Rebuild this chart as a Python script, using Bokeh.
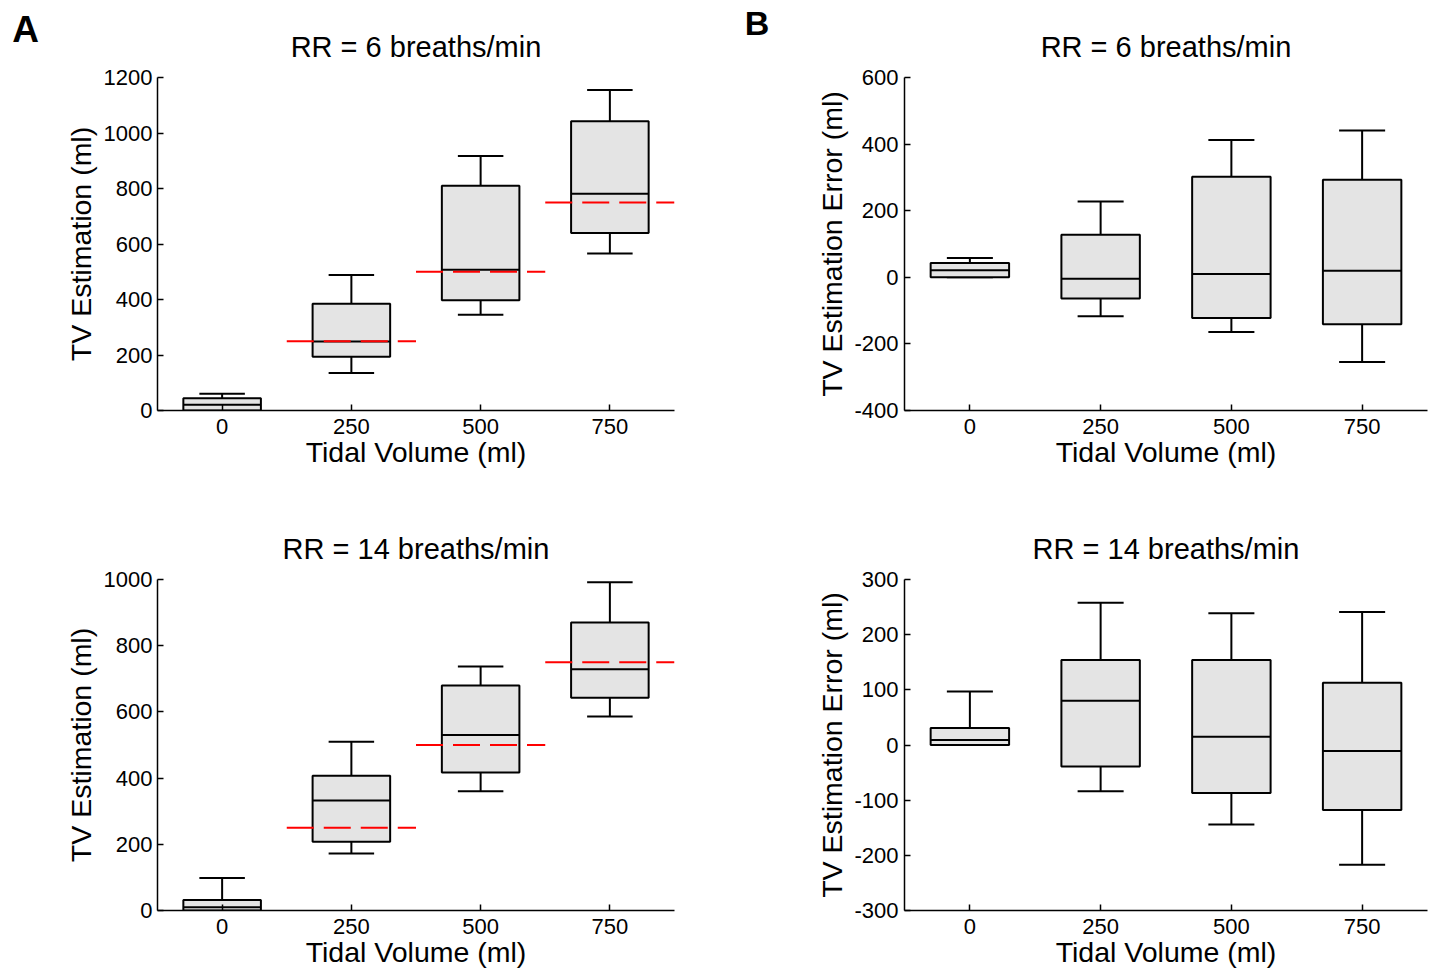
from bokeh.plotting import figure
from bokeh.layouts import column, row
from bokeh.models import FixedTicker, LinearAxis
from bokeh.embed import file_html
from bokeh.resources import INLINE

FONT = "Liberation Sans"

# ---------------- data ----------------
tidal_volumes = [0, 250, 500, 750]
x_tick_labels = ["0", "250", "500", "750"]
reference_tv = [250, 500, 750]

# Panel A, RR = 6 breaths/min : TV estimation (ml)
a6_lower = [0, 135, 345, 566]
a6_q1 = [0, 194, 397, 640]
a6_median = [21, 249, 507, 781]
a6_q3 = [44, 385, 810, 1042]
a6_upper = [60, 488, 917, 1155]
a6_yticks = [0, 200, 400, 600, 800, 1000, 1200]

# Panel B, RR = 6 breaths/min : TV estimation error (ml)
b6_lower = [0, -117, -164, -254]
b6_q1 = [0, -64, -122, -141]
b6_median = [21, -4, 10, 20]
b6_q3 = [43, 128, 302, 293]
b6_upper = [58, 228, 412, 441]
b6_yticks = [-400, -200, 0, 200, 400, 600]

# Panel A, RR = 14 breaths/min : TV estimation (ml)
a14_lower = [0, 172, 360, 586]
a14_q1 = [0, 208, 417, 643]
a14_median = [10, 332, 530, 729]
a14_q3 = [32, 407, 680, 870]
a14_upper = [98, 510, 737, 992]
a14_yticks = [0, 200, 400, 600, 800, 1000]

# Panel B, RR = 14 breaths/min : TV estimation error (ml)
b14_lower = [0, -84, -144, -217]
b14_q1 = [0, -39, -87, -118]
b14_median = [9, 80, 15, -11]
b14_q3 = [31, 154, 154, 113]
b14_upper = [97, 258, 239, 241]
b14_yticks = [-300, -200, -100, 0, 100, 200, 300]

BOX_HALF = 75
CAP_HALF = 44
REF_HALF = 125


def label_axis(text, size, style, standoff):
    """A tick-less axis above the frame that only carries a text label."""
    return LinearAxis(ticker=FixedTicker(ticks=[]), axis_label=text,
                      axis_line_color=None, major_tick_line_color=None,
                      minor_tick_line_color=None, major_tick_in=0,
                      major_tick_out=0, minor_tick_in=0, minor_tick_out=0,
                      major_label_standoff=0, axis_label_standoff=standoff,
                      axis_label_text_font=FONT, axis_label_text_font_size=size,
                      axis_label_text_font_style=style,
                      axis_label_text_color="black")


def make_panel(title, ylabel, yr, yticks, lower, q1, med, q3, upper,
               fw, fh, mb, ylab_standoff, ytick_standoff, refs=None):
    p = figure(frame_width=fw, frame_height=fh,
               x_range=(-125, 875), y_range=yr, title=None,
               output_backend="svg", toolbar_location=None,
               min_border_left=mb[0], min_border_right=mb[1],
               min_border_top=mb[2], min_border_bottom=mb[3])
    p.background_fill_color = "white"
    p.border_fill_color = "white"
    p.outline_line_color = None
    p.xgrid.visible = False
    p.ygrid.visible = False

    p.add_layout(label_axis(title, "29px", "normal", 15), "above")

    xs = tidal_volumes
    lefts = [x - BOX_HALF for x in xs]
    rights = [x + BOX_HALF for x in xs]
    cl = [x - CAP_HALF for x in xs]
    cr = [x + CAP_HALF for x in xs]

    # whiskers
    p.segment(x0=xs, y0=q3, x1=xs, y1=upper, line_color="black", line_width=2)
    p.segment(x0=xs, y0=q1, x1=xs, y1=lower, line_color="black", line_width=2)
    p.segment(x0=cl, y0=upper, x1=cr, y1=upper, line_color="black", line_width=2)
    p.segment(x0=cl, y0=lower, x1=cr, y1=lower, line_color="black", line_width=2)
    # boxes
    p.quad(left=lefts, right=rights, bottom=q1, top=q3,
           fill_color="#e4e4e4", line_color="black", line_width=2)
    # medians
    p.segment(x0=lefts, y0=med, x1=rights, y1=med, line_color="black", line_width=2)

    if refs is not None:
        p.segment(x0=[r - REF_HALF for r in refs], y0=refs,
                  x1=[r + REF_HALF for r in refs], y1=refs,
                  line_color="#ff0000", line_width=2, line_dash="27 10")

    bottom_ax = p.below[0]
    left_ax = p.left[0]
    bottom_ax.ticker = FixedTicker(ticks=tidal_volumes)
    bottom_ax.major_label_overrides = {v: s for v, s in zip(tidal_volumes, x_tick_labels)}
    left_ax.ticker = FixedTicker(ticks=yticks)
    left_ax.major_label_overrides = {v: str(v) for v in yticks}
    bottom_ax.axis_label = "Tidal Volume (ml)"
    left_ax.axis_label = ylabel

    for ax in (bottom_ax, left_ax):
        ax.axis_line_color = "black"
        ax.axis_line_width = 1.5
        ax.major_tick_line_color = "black"
        ax.major_tick_line_width = 1.5
        ax.major_tick_in = 6
        ax.major_tick_out = 0
        ax.minor_tick_line_color = None
        ax.major_label_text_font = FONT
        ax.major_label_text_font_size = "22px"
        ax.major_label_text_color = "black"
        ax.axis_label_text_font = FONT
        ax.axis_label_text_font_size = "28.5px"
        ax.axis_label_text_font_style = "normal"
        ax.axis_label_text_color = "black"
    bottom_ax.major_label_standoff = 8
    bottom_ax.axis_label_standoff = -1
    left_ax.major_label_standoff = ytick_standoff
    left_ax.axis_label_standoff = ylab_standoff
    return p


def letter_panel(letter, w, h, size, standoff):
    f = figure(width=w, height=h, x_range=(0, 1), y_range=(0, 1), title=None,
               output_backend="svg", toolbar_location=None,
               min_border_left=0, min_border_right=0,
               x_axis_location=None, y_axis_location=None)
    f.outline_line_color = None
    f.background_fill_color = "white"
    f.border_fill_color = "white"
    f.xgrid.visible = False
    f.ygrid.visible = False
    f.add_layout(label_axis(letter, size, "bold", standoff), "above")
    return f


pa6 = make_panel("RR = 6 breaths/min", "TV Estimation (ml)", (0, 1200), a6_yticks,
                 a6_lower, a6_q1, a6_median, a6_q3, a6_upper,
                 517, 333, (107, 46, 76, 81), 4, 5, refs=reference_tv)
pb6 = make_panel("RR = 6 breaths/min", "TV Estimation Error (ml)", (-400, 600), b6_yticks,
                 b6_lower, b6_q1, b6_median, b6_q3, b6_upper,
                 523, 333, (111, 12, 76, 81), 3, 6)
pa14 = make_panel("RR = 14 breaths/min", "TV Estimation (ml)", (0, 1000), a14_yticks,
                  a14_lower, a14_q1, a14_median, a14_q3, a14_upper,
                  517, 331, (157, 46, 89, 60), 4, 5, refs=reference_tv)
pb14 = make_panel("RR = 14 breaths/min", "TV Estimation Error (ml)", (-300, 300), b14_yticks,
                  b14_lower, b14_q1, b14_median, b14_q3, b14_upper,
                  523, 331, (184, 12, 89, 60), 3, 6)

letter_a = letter_panel("A", 50, 490, "37px", 28)
letter_b = letter_panel("B", 73, 490, "34px", 36)

layout = column(row(letter_a, pa6, letter_b, pb6), row(pa14, pb14))

with open("out.html", "w") as f:
    f.write(file_html(layout, INLINE))
